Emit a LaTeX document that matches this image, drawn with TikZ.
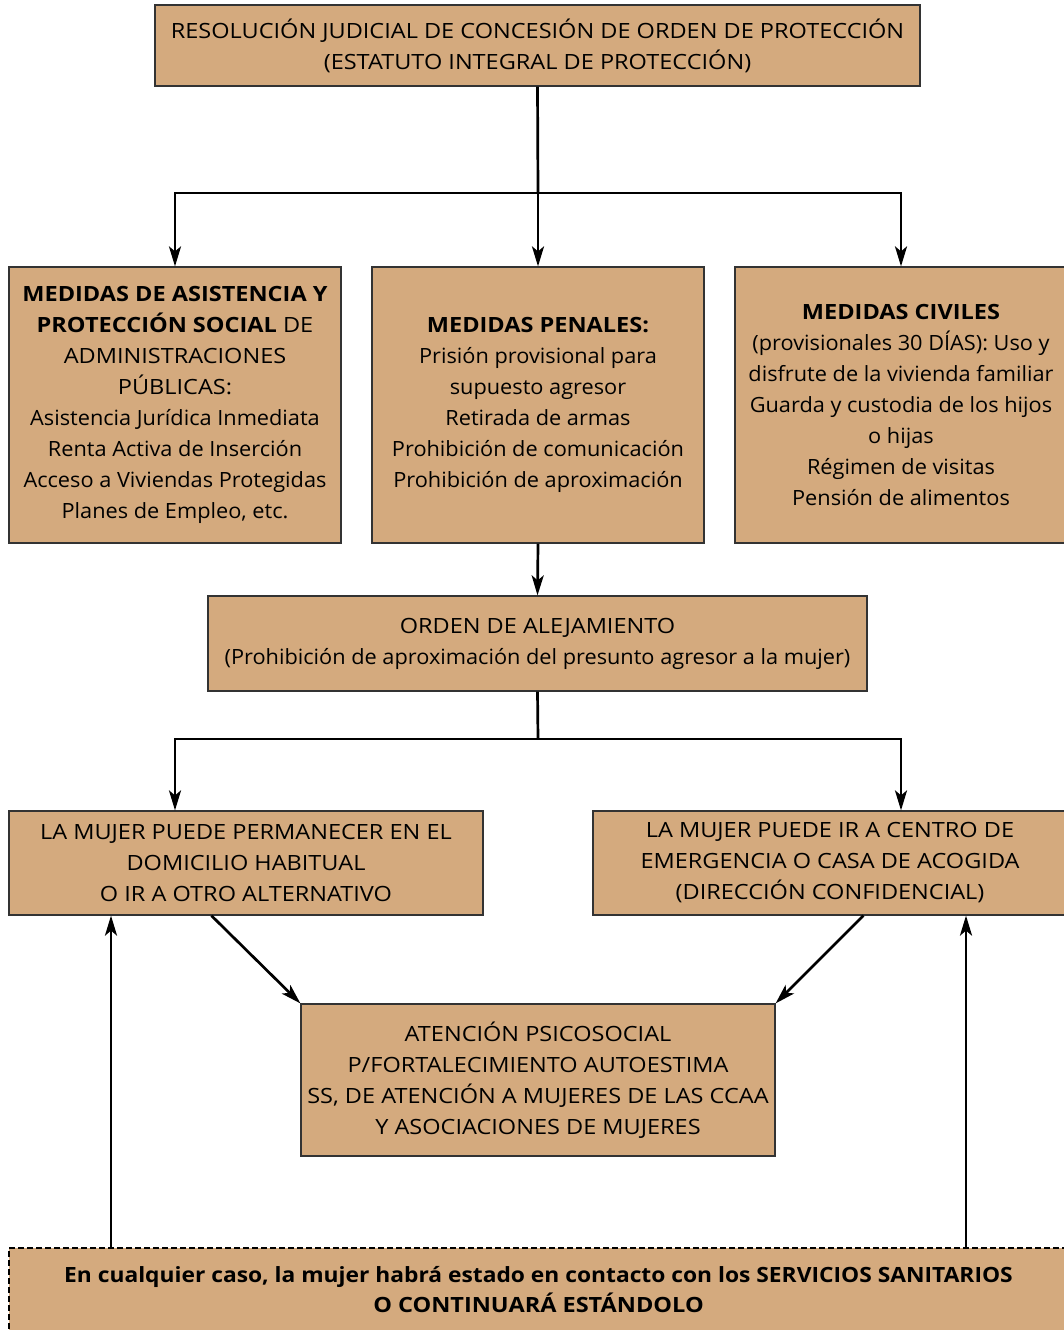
\documentclass[tikz,border=0pt]{standalone}
\usepackage{fontspec}
\setmainfont{Open Sans}[UprightFeatures={FakeStretch=1.035},BoldFeatures={FakeStretch=1.085}]
\newfontfamily\capsf{Open Sans}[UprightFeatures={FakeStretch=1.12},BoldFeatures={FakeStretch=1.12}]
\usetikzlibrary{arrows.meta,calc}
\definecolor{boxfill}{HTML}{D4AA7E}
\definecolor{boxline}{HTML}{333333}
\begin{document}
\begin{tikzpicture}[x=1pt,y=-1pt,
  box/.style={draw=boxline,fill=boxfill,line width=1.2pt,inner sep=0pt,align=center,
    font=\fontsize{21}{31}\selectfont,text=black},
  ln/.style={line width=2.7pt,black},
  arr/.style={line width=2.7pt,black,-{Stealth[length=20pt,width=12pt,inset=5pt]}}]
\useasboundingbox (0,0) rectangle (1063,1330);

\node[box,minimum width=765,minimum height=81,font=\fontsize{21}{31}\capsf] (top) at (537.5,45.5)
  {RESOLUCIÓN JUDICIAL DE CONCESIÓN DE ORDEN DE PROTECCIÓN\\(ESTATUTO INTEGRAL DE PROTECCIÓN)};

\node[box,minimum width=332,minimum height=276] (A) at (175,405)
  {{\capsf\textbf{MEDIDAS DE ASISTENCIA Y}}\\{\capsf\textbf{PROTECCIÓN SOCIAL} DE}\\{\capsf ADMINISTRACIONES}\\{\capsf PÚBLICAS:}\\Asistencia Jurídica Inmediata\\Renta Activa de Inserción\\Acceso a Viviendas Protegidas\\Planes de Empleo, etc.};

\node[box,minimum width=332,minimum height=276] (B) at (538,405)
  {{\capsf\bfseries MEDIDAS PENALES:}\\Prisión provisional para\\supuesto agresor\\Retirada de armas\\Prohibición de comunicación\\Prohibición de aproximación};

\node[box,minimum width=332,minimum height=276] (C) at (901,405)
  {{\capsf\bfseries MEDIDAS CIVILES}\\(provisionales 30 DÍAS): Uso y\\disfrute de la vivienda familiar\\Guarda y custodia de los hijos\\o hijas\\Régimen de visitas\\Pensión de alimentos};

\node[box,minimum width=659,minimum height=95] (O) at (537.5,643.5)
  {{\capsf ORDEN DE ALEJAMIENTO}\\(Prohibición de aproximación del presunto agresor a la mujer)};

\node[box,minimum width=474,minimum height=104,font=\fontsize{21}{31}\capsf] (D) at (246,863)
  {LA MUJER PUEDE PERMANECER EN EL\\DOMICILIO HABITUAL\\O IR A OTRO ALTERNATIVO};

\node[box,minimum width=474,minimum height=104,font=\fontsize{21}{31}\capsf] (E) at (830,863)
  {LA MUJER PUEDE IR A CENTRO DE\\EMERGENCIA O CASA DE ACOGIDA\\(DIRECCIÓN CONFIDENCIAL)};

\node[box,minimum width=474,minimum height=152,font=\fontsize{21}{31}\capsf] (F) at (538,1080)
  {ATENCIÓN PSICOSOCIAL\\P/FORTALECIMIENTO AUTOESTIMA\\SS, DE ATENCIÓN A MUJERES DE LAS CCAA\\Y ASOCIACIONES DE MUJERES};

\node[box,draw=black,line width=1.6pt,dash pattern=on 6pt off 3pt,minimum width=1059,minimum height=84,
  font=\fontsize{21}{30}\selectfont\bfseries] (G) at (538.5,1290)
  {En cualquier caso, la mujer habrá estado en contacto con los SERVICIOS SANITARIOS\\{\capsf\bfseries O CONTINUARÁ ESTÁNDOLO}};

\coordinate (j1) at (538,193);
\coordinate (j2) at (538,739);
\coordinate (a1) at (175,0);
\coordinate (a2) at (901,0);
\coordinate (u1) at (111,0);
\coordinate (u2) at (966,0);

\draw[ln] (top.south) -- (j1);
\draw[arr] (j1) -| (A.north);
\draw[arr] (j1) -- (B.north);
\draw[arr] (j1) -| (C.north);
\draw[arr] (B.south) -- (O.north);
\draw[ln] (O.south) -- (j2);
\draw[arr] (j2) -| (D.north -| a1);
\draw[arr] (j2) -| (E.north -| a2);
\draw[arr] ($(D.south west)+(203,0)$) -- (F.north west);
\draw[arr] ($(E.south west)+(271,0)$) -- (F.north east);
\draw[arr] (G.north -| u1) -- (D.south -| u1);
\draw[arr] (G.north -| u2) -- (E.south -| u2);
\end{tikzpicture}
\end{document}
